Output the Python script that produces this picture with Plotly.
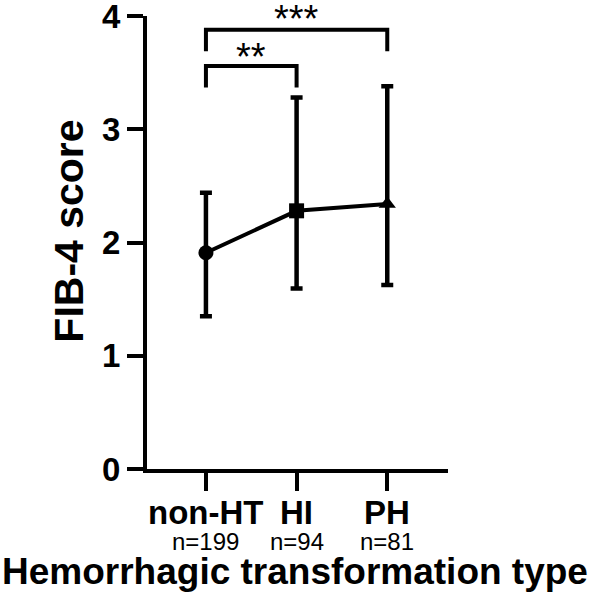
import plotly.graph_objects as go

groups = ["non-HT", "HI", "PH"]
n_labels = ["n=199", "n=94", "n=81"]
means = [1.91, 2.28, 2.34]
upper = [2.44, 3.28, 3.38]
lower = [1.35, 1.595, 1.625]
symbols = ["circle", "square", "triangle-up"]

# significance brackets: (from idx, to idx, bar height, leg bottom, label, label height)
brackets = [
    (0, 1, 3.56, 3.37, "**", 3.64),
    (0, 2, 3.88, 3.69, "***", 3.97),
]

xs = list(range(len(groups)))
err_plus = [u - m for u, m in zip(upper, means)]
err_minus = [m - l for m, l in zip(means, lower)]

FONT = "Arial, Liberation Sans, Helvetica, sans-serif"
Y_MAX = 4

fig = go.Figure()
fig.add_trace(go.Scatter(
    x=xs, y=means, mode="lines+markers",
    line=dict(color="black", width=4),
    marker=dict(symbol=symbols, size=15, color="black"),
    error_y=dict(type="data", array=err_plus, arrayminus=err_minus,
                 color="black", thickness=4.5, width=6),
    cliponaxis=False, showlegend=False,
))

for a, b, top, bottom, label, ty in brackets:
    fig.add_trace(go.Scatter(
        x=[a, a, b, b], y=[bottom, top, top, bottom], mode="lines",
        line=dict(color="black", width=4), cliponaxis=False, showlegend=False,
        hoverinfo="skip",
    ))
    fig.add_annotation(x=(a + b) / 2, y=ty / Y_MAX, xref="x", yref="paper", text=label,
                       showarrow=False, font=dict(family=FONT, size=38, color="black"),
                       yanchor="middle")

for x, g in zip(xs, groups):
    fig.add_annotation(x=x, y=-0.097, xref="x", yref="paper", text=f"<b>{g}</b>",
                       showarrow=False, font=dict(family=FONT, size=33, color="black"),
                       yanchor="middle")

for x, t in zip(xs, n_labels):
    fig.add_annotation(x=x, y=-0.161, xref="x", yref="paper", text=t, showarrow=False,
                       font=dict(family=FONT, size=24, color="black"), yanchor="middle")

fig.add_annotation(x=0.493, y=-0.227, xref="paper", yref="paper",
                   text="<b>Hemorrhagic transformation type</b>", showarrow=False,
                   font=dict(family=FONT, size=37, color="black"), yanchor="middle")
fig.add_annotation(x=-0.259, y=0.524, xref="paper", yref="paper",
                   text="<b>FIB-4 score</b>", textangle=-90, showarrow=False,
                   font=dict(family=FONT, size=41, color="black"),
                   xanchor="center", yanchor="middle")

fig.update_layout(
    width=591, height=601,
    margin=dict(l=147, r=143, t=16, b=132, autoexpand=False),
    paper_bgcolor="white", plot_bgcolor="white",
    font=dict(family=FONT, color="black"),
    xaxis=dict(range=[-0.65, 2.67], tickvals=xs, showticklabels=False,
               automargin=False,
               showline=True, linecolor="black", linewidth=4,
               ticks="outside", ticklen=18, tickwidth=4, tickcolor="black",
               showgrid=False, zeroline=False, fixedrange=True),
    yaxis=dict(range=[0, Y_MAX + 0.0005], tickvals=[0, 1, 2, 3, 4],
               ticktext=["<b>0</b>", "<b>1</b>", "<b>2</b>", "<b>3</b>", "<b>4</b>"],
               tickfont=dict(family=FONT, size=33, color="black"),
               ticklabeloverflow="allow", automargin=False,
               showline=True, linecolor="black", linewidth=4,
               ticks="outside", ticklen=16, tickwidth=4, tickcolor="black",
               showgrid=False, zeroline=False, fixedrange=True),
)

fig.write_html("out.html", config={"displayModeBar": False},
               post_script="document.body.style.margin='0';")
